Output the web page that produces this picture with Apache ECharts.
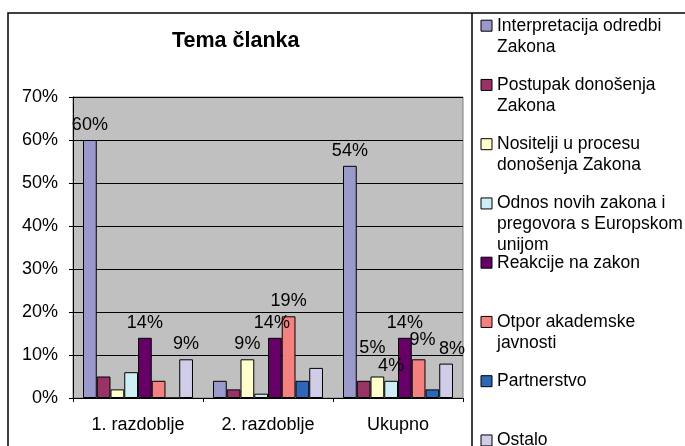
<!DOCTYPE html>
<html>
<head>
<meta charset="utf-8">
<script src="https://cdn.jsdelivr.net/npm/echarts@6/dist/echarts.min.js"></script>
<style>
html,body{margin:0;padding:0;background:#fff;}
#chart{width:685px;height:446px;}
</style>
</head>
<body>
<div id="chart"></div>
<script>
const categories = ['1. razdoblje', '2. razdoblje', 'Ukupno'];
const seriesNames = [
  'Interpretacija odredbi Zakona',
  'Postupak donošenja Zakona',
  'Nositelji u procesu donošenja Zakona',
  'Odnos novih zakona i pregovora s Europskom unijom',
  'Reakcije na zakon',
  'Otpor akademske javnosti',
  'Partnerstvo',
  'Ostalo'
];
const legendLines = [
  ['Interpretacija odredbi', 'Zakona'],
  ['Postupak donošenja', 'Zakona'],
  ['Nositelji u procesu', 'donošenja Zakona'],
  ['Odnos novih zakona i', 'pregovora s Europskom', 'unijom'],
  ['Reakcije na zakon'],
  ['Otpor akademske', 'javnosti'],
  ['Partnerstvo'],
  ['Ostalo']
];
const interpretacija = [60, 4, 54];
const postupak = [5, 2, 4];
const nositelji = [2, 9, 5];
const odnos = [6, 1, 4];
const reakcije = [14, 14, 14];
const otpor = [4, 19, 9];
const partnerstvo = [0, 4, 2];
const ostalo = [9, 7, 8];
const yTickLabels = ['0%', '10%', '20%', '30%', '40%', '50%', '60%', '70%'];
// which data labels are visible: [seriesIndex, categoryIndex]
const shownLabels = [[0,0],[4,0],[7,0],[2,1],[4,1],[5,1],[0,2],[2,2],[3,2],[4,2],[5,2],[7,2]];

const values = [interpretacija, postupak, nositelji, odnos, reakcije, otpor, partnerstvo, ostalo];
const colors = ['#9999CC', '#993366', '#FFFFCC', '#CCEEF4', '#660066', '#F58080', '#2E66B8', '#CFCDE8'];
// small label nudges (style only)
const labelNudge = { '4,1': [-3, 0], '2,2': [-5, -13], '5,2': [4, -4], '7,2': [6, 0] };

const FONT = 'Liberation Sans, Arial, sans-serif';
const FS = 18;
const LFS = 17.5;
const LH = 21;

const series = values.map((vals, si) => ({
  name: seriesNames[si],
  type: 'bar',
  barGap: '0%',
  barCategoryGap: '15.4%',
  itemStyle: { color: colors[si], borderColor: '#000', borderWidth: 1 },
  data: vals.map((v, ci) => {
    const show = shownLabels.some(p => p[0] === si && p[1] === ci);
    const nudge = labelNudge[si + ',' + ci] || [0, 0];
    return {
      value: v,
      label: {
        show: show,
        position: 'top',
        distance: 6,
        offset: nudge,
        formatter: '{c}%',
        color: '#000',
        fontFamily: FONT,
        fontSize: FS
      }
    };
  })
}));

const legends = seriesNames.map((name, i) => {
  const n = legendLines[i].length;
  const iconCenter = 25.7 + i * 59.25;
  // blank lines before the text keep the first line level with the icon
  const text = new Array(n - 1).fill('').concat(legendLines[i]).join('\n');
  return {
    orient: 'vertical',
    left: 480.5,
    top: iconCenter - (2 * n - 1) * LH / 2,
    padding: 0,
    itemWidth: 11,
    itemHeight: 11,
    itemGap: 0,
    icon: 'rect',
    selectedMode: false,
    itemStyle: { borderColor: '#000', borderWidth: 1 },
    data: [name],
    formatter: () => text,
    textStyle: {
      fontFamily: FONT,
      fontSize: LFS,
      lineHeight: LH,
      color: '#000'
    }
  };
});

const chart = echarts.init(document.getElementById('chart'), null, { renderer: 'canvas' });
chart.setOption({
  animation: false,
  backgroundColor: '#fff',
  color: colors,
  title: {
    text: 'Tema članka',
    left: 172,
    top: 30,
    padding: 0,
    textStyle: { fontFamily: FONT, fontSize: 21.5, fontWeight: 'bold', color: '#000' }
  },
  legend: legends,
  grid: {
    left: 73, right: 222, top: 97, bottom: 48,
    show: true, backgroundColor: '#C0C0C0', borderColor: '#808080', borderWidth: 1
  },
  xAxis: {
    type: 'category',
    data: categories,
    axisLine: { show: true, lineStyle: { color: '#000', width: 1 } },
    axisTick: { show: true, length: 4, alignWithLabel: false, lineStyle: { color: '#000' } },
    axisLabel: { fontFamily: FONT, fontSize: FS, color: '#000', margin: 18 }
  },
  yAxis: {
    type: 'value',
    min: 0, max: 70, interval: 10,
    axisLine: { show: true, lineStyle: { color: '#000', width: 1 } },
    axisTick: { show: true, length: 4, lineStyle: { color: '#000' } },
    axisLabel: {
      fontFamily: FONT, fontSize: FS, color: '#000', margin: 15,
      formatter: (v) => yTickLabels[Math.round(v / 10)]
    },
    splitLine: { show: true, lineStyle: { color: '#000', width: 1 } }
  },
  graphic: [
    { type: 'rect', silent: true, z: 100, shape: { x: 8, y: 13, width: 700, height: 460 },
      style: { fill: null, stroke: '#000', lineWidth: 1.5 } },
    { type: 'line', silent: true, z: 100, shape: { x1: 472, y1: 13, x2: 472, y2: 460 },
      style: { stroke: '#000', lineWidth: 1.5 } }
  ],
  series: series
});
</script>
</body>
</html>
